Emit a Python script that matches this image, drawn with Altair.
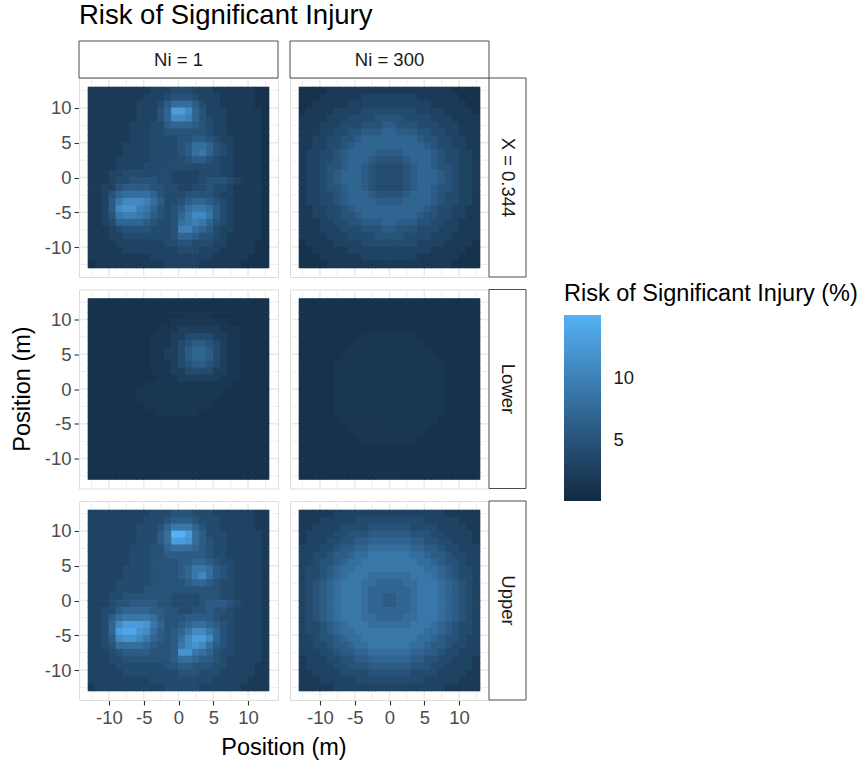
import altair as alt
import pandas as pd

FONT = "Liberation Sans"

col_labels = ["Ni = 1", "Ni = 300"]
row_labels = ["X = 0.344", "Lower", "Upper"]
axis_title = "Position (m)"

# Risk grids: 26 rows from y = 12.5 (top) to y = -12.5, 26 columns from
# x = -12.5 to 12.5, one 1 m cell per character, stored as hex digits.
# The X and Upper grids are in whole percent, the Lower grids in half percent.
risk_x_ni1 = [
    "22222222233344433322222211",
    "22222222333455543332222211",
    "22222223334688864332222211",
    "222222233357ddb75333222221",
    "222222233357bba75433222221",
    "22222233344677765433222221",
    "22222233344555555433222221",
    "22222233344445566543322221",
    "22222333344445688754322221",
    "22222333344445689754322221",
    "22223333344444566543322221",
    "22223333444444444443322221",
    "22233444444433334443322221",
    "22234455554433334555432221",
    "22335666655443344544322221",
    "22357888875444555543322221",
    "22369bbba86445677654322221",
    "2236bcca975456899864322221",
    "22359aa98654579bb964322221",
    "223477776544589a9754322221",
    "2223455554445aa87643322221",
    "22233444444457765543222221",
    "22223333333445544433222211",
    "22222333333334443332222211",
    "22222222233333333322222111",
    "12222222222333332222221111",
]

risk_x_ni300 = [
    "11112222222222222222221111",
    "11122222233333333222222111",
    "11222223333333333332222211",
    "12222333344444444333322221",
    "22223334444555544443332222",
    "22233344455566555444333222",
    "22233445566677666554433222",
    "22334455677777777655443322",
    "22334456777777777765443322",
    "23344567777666677776544332",
    "23344567776555567776544332",
    "23345567765444456776554332",
    "23345677765444456777654332",
    "23345677765444456777654332",
    "23345567765444456776554332",
    "23344567776555567776544332",
    "23344567777666677776544332",
    "22334456777777777765443322",
    "22334455677777777655443322",
    "22233445566677666554433222",
    "22233344455566555444333222",
    "22223334444555544443332222",
    "12222333344444444333322221",
    "11222223333333333332222211",
    "11122222233333333222222111",
    "11112222222222222222221111",
]

risk_lower_ni1 = [
    "22222222222222222222222222",
    "22222222222222222222222222",
    "22222222222222333322222222",
    "22222222222233333333222222",
    "22222222223335555553332222",
    "22222222233355888855332222",
    "22222222233358acca85332222",
    "22222222233558ceec85332222",
    "22222222233558ceec85332222",
    "22222222233358acca85332222",
    "22222222233355888855332222",
    "22222222223335555553332222",
    "22222222333333333333322222",
    "22222223333333333333222222",
    "22222223333333333332222222",
    "22222222333333333322222222",
    "22222222223333332222222222",
    "22222222222222222222222222",
    "22222222222222222222222222",
    "22222222222222222222222222",
    "22222222222222222222222222",
    "22222222222222222222222222",
    "22222222222222222222222222",
    "22222222222222222222222222",
    "22222222222222222222222222",
    "22222222222222222222222222",
]

risk_lower_ni300 = [
    "22222222222222222222222222",
    "22222222222222222222222222",
    "22222222222222222222222222",
    "22222222222222222222222222",
    "22222222222222222222222222",
    "22222222233333333222222222",
    "22222222333333333322222222",
    "22222223333333333332222222",
    "22222233333333333333222222",
    "22222333333333333333322222",
    "22222333333333333333322222",
    "22222333333333333333322222",
    "22222333333333333333322222",
    "22222333333333333333322222",
    "22222333333333333333322222",
    "22222333333333333333322222",
    "22222333333333333333322222",
    "22222233333333333333222222",
    "22222223333333333332222222",
    "22222222333333333322222222",
    "22222222233333333222222222",
    "22222222222222222222222222",
    "22222222222222222222222222",
    "22222222222222222222222222",
    "22222222222222222222222222",
    "22222222222222222222222222",
]

risk_upper_ni1 = [
    "33333333344455544433333322",
    "33333333444566654443333322",
    "33333334445799975443333322",
    "333333344468ffd86444333332",
    "333333344468ddc86544333332",
    "33333344455788876544333332",
    "33333344455666666544333332",
    "33333344455556677654433332",
    "33333444455556799865433332",
    "3333344445555679b865433332",
    "33334444455555677654433332",
    "33334444555555555554433332",
    "33344555555544445554433332",
    "33345566665544445666543332",
    "33446777766554455655433332",
    "33468999986555666654433332",
    "3347bdddc97556788765433332",
    "3347deecb865679bb975433332",
    "3346bccb976568bddb75433332",
    "33458888765569bcb865433332",
    "3334566665556cc98754433332",
    "33344555555568876654333332",
    "33334444444556655544333322",
    "33333444444445554443333322",
    "33333333344444444433333222",
    "23333333333444443333332222",
]

risk_upper_ni300 = [
    "22222333333333333333322222",
    "22233333444444444433333222",
    "22333344445555554444333322",
    "23333445556666665554433332",
    "23334455667777776655443332",
    "33344566778888887766544333",
    "33445667889999998876654433",
    "33455678899999999887655433",
    "34456788999999999988765443",
    "34456789998888889998765443",
    "34567899988777788999876543",
    "34567899987777778999876543",
    "34567899987766778999876543",
    "34567899987766778999876543",
    "34567899987777778999876543",
    "34567899988777788999876543",
    "34456789998888889998765443",
    "34456788999999999988765443",
    "33455678899999999887655433",
    "33445667889999998876654433",
    "33344566778888887766544333",
    "23334455667777776655443332",
    "23333445556666665554433332",
    "22333344445555554444333322",
    "22233333444444444433333222",
    "22222333333333333333322222",
]

# (row label, column label, grid, percent per stored step)
panels = [
    ("X = 0.344", "Ni = 1", risk_x_ni1, 1.0),
    ("X = 0.344", "Ni = 300", risk_x_ni300, 1.0),
    ("Lower", "Ni = 1", risk_lower_ni1, 0.5),
    ("Lower", "Ni = 300", risk_lower_ni300, 0.5),
    ("Upper", "Ni = 1", risk_upper_ni1, 1.0),
    ("Upper", "Ni = 300", risk_upper_ni300, 1.0),
]

major_breaks = [-10, -5, 0, 5, 10]
minor_breaks = [-12.5, -7.5, -2.5, 2.5, 7.5, 12.5]

records = []
for case, ni, grid, step in panels:
    assert len(grid) == 26 and all(len(r) == 26 for r in grid), (case, ni)
    for i, line in enumerate(grid):
        yc = 12.5 - i
        for j, ch in enumerate(line):
            xc = -12.5 + j
            records.append(dict(kind="tile", case=case, ni=ni,
                                x0=xc - 0.5, x1=xc + 0.5, y0=yc - 0.5, y1=yc + 0.5,
                                risk=int(ch, 16) * step))
    for g in minor_breaks:
        records.append(dict(kind="minor", case=case, ni=ni, g=g))
    for g in major_breaks:
        records.append(dict(kind="major", case=case, ni=ni, g=g))
    if case == row_labels[0]:
        records.append(dict(kind="strip_top", case=case, ni=ni, label=ni))
    if ni == col_labels[-1]:
        records.append(dict(kind="strip_right", case=case, ni=ni, label=case))
    # shared axis titles, drawn once from the middle-left and bottom-right panels
    if case == row_labels[1] and ni == col_labels[0]:
        records.append(dict(kind="ytitle", case=case, ni=ni, label=axis_title))
    if case == row_labels[-1] and ni == col_labels[-1]:
        records.append(dict(kind="xtitle", case=case, ni=ni, label=axis_title))

df = pd.DataFrame(records)

W = 199
H = 199
STRIP = 37
COL_GAP = 12
ROW_GAP = 12.5

xsc = alt.Scale(domain=[-14.3, 14.3], nice=False, zero=False)
ysc = alt.Scale(domain=[-14.3, 14.3], nice=False, zero=False)
csc = alt.Scale(domain=[0.05, 15.15], range=["#132B43", "#56B1F7"], interpolate="lab")

axis_common = dict(
    values=major_breaks, title=None, grid=False, domain=False,
    tickColor="#333333", tickSize=5, tickWidth=1.1,
    labelColor="#4D4D4D", labelFont=FONT, labelFontSize=18.5, labelPadding=3,
    labelExpr="datum.value + ''",
)
x_axis = alt.Axis(**axis_common)
y_axis = alt.Axis(**axis_common)

base = alt.Chart()

minor_v = base.mark_rule(color="#EBEBEB", strokeWidth=0.8).encode(
    x=alt.X("g:Q", scale=xsc, axis=x_axis)
).transform_filter(alt.datum.kind == "minor")
minor_h = base.mark_rule(color="#EBEBEB", strokeWidth=0.8).encode(
    y=alt.Y("g:Q", scale=ysc, axis=y_axis)
).transform_filter(alt.datum.kind == "minor")
major_v = base.mark_rule(color="#EBEBEB", strokeWidth=1.5).encode(
    x=alt.X("g:Q", scale=xsc, axis=x_axis)
).transform_filter(alt.datum.kind == "major")
major_h = base.mark_rule(color="#EBEBEB", strokeWidth=1.5).encode(
    y=alt.Y("g:Q", scale=ysc, axis=y_axis)
).transform_filter(alt.datum.kind == "major")

legend = alt.Legend(
    type="gradient", orient="none", legendX=485, legendY=203.5, direction="vertical",
    gradientLength=186, gradientThickness=37, gradientStrokeWidth=0,
    values=[5, 10], format="d",
    title="Risk of Significant Injury (%)", titleLimit=400,
    titleFont=FONT, titleFontSize=23.5, titleFontWeight="normal", titleColor="black",
    titlePadding=10,
    labelFont=FONT, labelFontSize=18.5, labelColor="#1A1A1A", labelOffset=12.5,
)

# tiles are widened by a fraction of a pixel so neighbours overlap without seams
tiles = base.mark_rect(xOffset=-0.35, x2Offset=0.35, yOffset=0.35, y2Offset=-0.35).encode(
    x=alt.X("x0:Q", scale=xsc, axis=x_axis),
    x2="x1:Q",
    y=alt.Y("y0:Q", scale=ysc, axis=y_axis),
    y2="y1:Q",
    color=alt.Color("risk:Q", scale=csc, legend=legend),
).transform_filter(alt.datum.kind == "tile")

strip_top_box = base.mark_rect(fill="white", stroke="#4D4D4D", strokeWidth=1).encode(
    x=alt.value(0), x2=alt.value(W), y=alt.value(-STRIP), y2=alt.value(0)
).transform_filter(alt.datum.kind == "strip_top")
strip_top_text = base.mark_text(font=FONT, fontSize=18.5, color="#1A1A1A").encode(
    x=alt.value(W / 2), y=alt.value(-STRIP / 2), text="label:N"
).transform_filter(alt.datum.kind == "strip_top")

strip_right_box = base.mark_rect(fill="white", stroke="#4D4D4D", strokeWidth=1).encode(
    x=alt.value(W), x2=alt.value(W + STRIP), y=alt.value(0), y2=alt.value(H)
).transform_filter(alt.datum.kind == "strip_right")
strip_right_text = base.mark_text(font=FONT, fontSize=18.5, color="#1A1A1A", angle=90).encode(
    x=alt.value(W + STRIP / 2), y=alt.value(H / 2), text="label:N"
).transform_filter(alt.datum.kind == "strip_right")

y_title = base.mark_text(font=FONT, fontSize=23.5, color="black", angle=270).encode(
    x=alt.value(-56), y=alt.value(H / 2), text="label:N"
).transform_filter(alt.datum.kind == "ytitle")
x_title = base.mark_text(font=FONT, fontSize=23.5, color="black", baseline="alphabetic").encode(
    x=alt.value(-COL_GAP / 2), y=alt.value(H + 54.5), text="label:N"
).transform_filter(alt.datum.kind == "xtitle")

layered = alt.layer(
    minor_v, minor_h, major_v, major_h, tiles,
    strip_top_box, strip_top_text, strip_right_box, strip_right_text,
    y_title, x_title,
).properties(width=W, height=H)

chart = layered.facet(
    row=alt.Row("case:N", sort=row_labels, title=None, header=alt.Header(labels=False)),
    column=alt.Column("ni:N", sort=col_labels, title=None, header=alt.Header(labels=False)),
    data=df,
    spacing={"row": ROW_GAP, "column": COL_GAP},
    bounds="flush",
).properties(
    title=alt.TitleParams(
        "Risk of Significant Injury", anchor="start", frame="group", font=FONT,
        fontSize=27.5, fontWeight="normal", color="black", offset=11,
    ),
    padding={"left": 10, "top": 1, "right": 0, "bottom": 0},
).configure_view(
    stroke="#4D4D4D", strokeWidth=1
).configure(background="white")

chart.save("out.html", embed_options={"renderer": "svg", "actions": False})
